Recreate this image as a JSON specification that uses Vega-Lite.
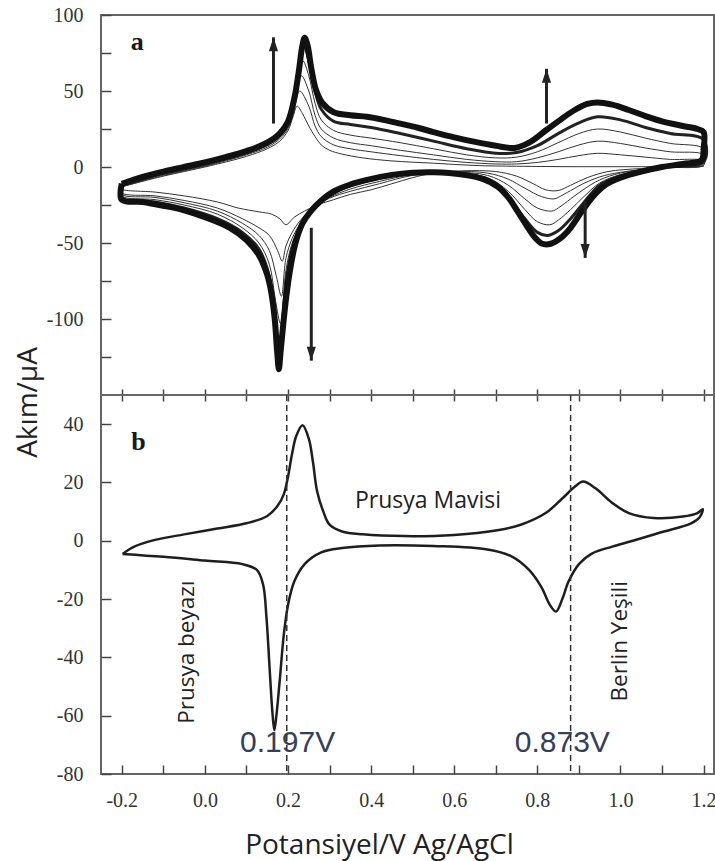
{
  "$schema": "https://vega.github.io/schema/vega-lite/v6.json",
  "background": "white",
  "padding": {"left": 13, "top": 4, "right": 0, "bottom": 2},
  "spacing": 0,
  "bounds": "flush",
  "config": {
    "view": {"stroke": "#666", "strokeWidth": 2},
    "axis": {
      "domain": false, "grid": false,
      "labelFont": "Liberation Serif", "labelFontSize": 20, "labelColor": "#333",
      "tickColor": "#444", "tickWidth": 1.5, "labelOverlap": false, "labelFlush": false,
      "titleFont": "Open Sans", "titleFontSize": 28, "titleFontWeight": "normal", "titleColor": "#222"
    }
  },
  "datasets": {
    "cvA": [
      {"c":"o","k":1,"E":-0.2,"I":-11},{"c":"o","k":2,"E":-0.15,"I":-6.5},{"c":"o","k":3,"E":-0.1,"I":-3},{"c":"o","k":4,"E":-0.05,"I":0},{"c":"o","k":5,"E":0,"I":3},{"c":"o","k":6,"E":0.05,"I":6.5},{"c":"o","k":7,"E":0.1,"I":10.5},{"c":"o","k":8,"E":0.15,"I":16},{"c":"o","k":9,"E":0.18,"I":22},{"c":"o","k":10,"E":0.2,"I":30},{"c":"o","k":11,"E":0.215,"I":45},{"c":"o","k":12,"E":0.226,"I":63},{"c":"o","k":13,"E":0.234,"I":79},{"c":"o","k":14,"E":0.24,"I":85},{"c":"o","k":15,"E":0.247,"I":80},{"c":"o","k":16,"E":0.256,"I":65},{"c":"o","k":17,"E":0.267,"I":51},{"c":"o","k":18,"E":0.283,"I":42},{"c":"o","k":19,"E":0.31,"I":36},{"c":"o","k":20,"E":0.35,"I":34},{"c":"o","k":21,"E":0.39,"I":33},{"c":"o","k":22,"E":0.43,"I":31},{"c":"o","k":23,"E":0.47,"I":28.5},{"c":"o","k":24,"E":0.51,"I":26},{"c":"o","k":25,"E":0.55,"I":23},{"c":"o","k":26,"E":0.6,"I":19.5},{"c":"o","k":27,"E":0.65,"I":16.5},{"c":"o","k":28,"E":0.7,"I":14},{"c":"o","k":29,"E":0.745,"I":12.5},{"c":"o","k":30,"E":0.78,"I":16},{"c":"o","k":31,"E":0.82,"I":24},{"c":"o","k":32,"E":0.86,"I":32},{"c":"o","k":33,"E":0.89,"I":37.5},{"c":"o","k":34,"E":0.92,"I":41.5},{"c":"o","k":35,"E":0.945,"I":42.5},{"c":"o","k":36,"E":0.98,"I":41},{"c":"o","k":37,"E":1.02,"I":37.5},{"c":"o","k":38,"E":1.06,"I":33.5},{"c":"o","k":39,"E":1.1,"I":30},{"c":"o","k":40,"E":1.15,"I":27},{"c":"o","k":41,"E":1.185,"I":25},{"c":"o","k":42,"E":1.2,"I":23},{"c":"o","k":43,"E":1.2,"I":12},{"c":"o","k":44,"E":1.195,"I":4.5},{"c":"o","k":45,"E":1.15,"I":2},{"c":"o","k":46,"E":1.1,"I":0},{"c":"o","k":47,"E":1.05,"I":-3},{"c":"o","k":48,"E":1.0,"I":-7},{"c":"o","k":49,"E":0.965,"I":-11.5},{"c":"o","k":50,"E":0.935,"I":-19},{"c":"o","k":51,"E":0.905,"I":-30},{"c":"o","k":52,"E":0.88,"I":-40},{"c":"o","k":53,"E":0.855,"I":-47},{"c":"o","k":54,"E":0.832,"I":-50.5},{"c":"o","k":55,"E":0.812,"I":-50.5},{"c":"o","k":56,"E":0.793,"I":-46},{"c":"o","k":57,"E":0.773,"I":-38},{"c":"o","k":58,"E":0.752,"I":-29},{"c":"o","k":59,"E":0.73,"I":-20},{"c":"o","k":60,"E":0.705,"I":-13},{"c":"o","k":61,"E":0.67,"I":-8},{"c":"o","k":62,"E":0.62,"I":-5},{"c":"o","k":63,"E":0.55,"I":-3.5},{"c":"o","k":64,"E":0.5,"I":-3.8},{"c":"o","k":65,"E":0.45,"I":-5.2},{"c":"o","k":66,"E":0.39,"I":-8.5},{"c":"o","k":67,"E":0.35,"I":-11.5},{"c":"o","k":68,"E":0.31,"I":-16},{"c":"o","k":69,"E":0.28,"I":-22},{"c":"o","k":70,"E":0.255,"I":-29},{"c":"o","k":71,"E":0.235,"I":-37},{"c":"o","k":72,"E":0.218,"I":-50},{"c":"o","k":73,"E":0.206,"I":-66},{"c":"o","k":74,"E":0.196,"I":-85},{"c":"o","k":75,"E":0.188,"I":-105},{"c":"o","k":76,"E":0.182,"I":-122},{"c":"o","k":77,"E":0.178,"I":-133},{"c":"o","k":78,"E":0.174,"I":-122},{"c":"o","k":79,"E":0.168,"I":-100},{"c":"o","k":80,"E":0.16,"I":-83},{"c":"o","k":81,"E":0.15,"I":-71},{"c":"o","k":82,"E":0.13,"I":-58},{"c":"o","k":83,"E":0.1,"I":-48},{"c":"o","k":84,"E":0.06,"I":-40},{"c":"o","k":85,"E":0,"I":-33},{"c":"o","k":86,"E":-0.05,"I":-28.5},{"c":"o","k":87,"E":-0.1,"I":-25.5},{"c":"o","k":88,"E":-0.15,"I":-23},{"c":"o","k":89,"E":-0.2,"I":-21.5},{"c":"o","k":90,"E":-0.2,"I":-11},

      {"c":"f","k":1,"E":-0.2,"I":-13},{"c":"f","k":2,"E":-0.1,"I":-6},{"c":"f","k":3,"E":0,"I":0},{"c":"f","k":4,"E":0.1,"I":7},{"c":"f","k":5,"E":0.15,"I":12},{"c":"f","k":6,"E":0.18,"I":17},{"c":"f","k":7,"E":0.2,"I":24},{"c":"f","k":8,"E":0.212,"I":33},{"c":"f","k":9,"E":0.222,"I":40},{"c":"f","k":10,"E":0.235,"I":35},{"c":"f","k":11,"E":0.25,"I":27},{"c":"f","k":12,"E":0.265,"I":20},{"c":"f","k":13,"E":0.28,"I":14.5},{"c":"f","k":14,"E":0.3,"I":11},{"c":"f","k":15,"E":0.33,"I":8.5},{"c":"f","k":16,"E":0.38,"I":6},{"c":"f","k":17,"E":0.45,"I":4},{"c":"f","k":18,"E":0.55,"I":2.5},{"c":"f","k":19,"E":0.65,"I":1},{"c":"f","k":20,"E":0.75,"I":0.5},{"c":"f","k":21,"E":0.9,"I":0.2},{"c":"f","k":22,"E":1.05,"I":0.2},{"c":"f","k":23,"E":1.2,"I":0.5},{"c":"f","k":24,"E":1.15,"I":0},{"c":"f","k":25,"E":1.05,"I":-1},{"c":"f","k":26,"E":0.97,"I":-3},{"c":"f","k":27,"E":0.92,"I":-7},{"c":"f","k":28,"E":0.88,"I":-12},{"c":"f","k":29,"E":0.85,"I":-15.5},{"c":"f","k":30,"E":0.82,"I":-15},{"c":"f","k":31,"E":0.79,"I":-11},{"c":"f","k":32,"E":0.75,"I":-6},{"c":"f","k":33,"E":0.7,"I":-3},{"c":"f","k":34,"E":0.62,"I":-2.5},{"c":"f","k":35,"E":0.55,"I":-4},{"c":"f","k":36,"E":0.5,"I":-7},{"c":"f","k":37,"E":0.45,"I":-11},{"c":"f","k":38,"E":0.4,"I":-15},{"c":"f","k":39,"E":0.35,"I":-18},{"c":"f","k":40,"E":0.31,"I":-21.5},{"c":"f","k":41,"E":0.27,"I":-25},{"c":"f","k":42,"E":0.24,"I":-29},{"c":"f","k":43,"E":0.215,"I":-33},{"c":"f","k":44,"E":0.195,"I":-38},{"c":"f","k":45,"E":0.18,"I":-34},{"c":"f","k":46,"E":0.16,"I":-31},{"c":"f","k":47,"E":0.13,"I":-29.5},{"c":"f","k":48,"E":0.08,"I":-27},{"c":"f","k":49,"E":0.03,"I":-23},{"c":"f","k":50,"E":-0.05,"I":-19},{"c":"f","k":51,"E":-0.12,"I":-16.5},{"c":"f","k":52,"E":-0.2,"I":-14.5},{"c":"f","k":53,"E":-0.2,"I":-13},

      {"c":"i4","k":1,"E":-0.2,"I":-12},{"c":"i4","k":2,"E":-0.1,"I":-4},{"c":"i4","k":3,"E":0,"I":2},{"c":"i4","k":4,"E":0.1,"I":9.5},{"c":"i4","k":5,"E":0.15,"I":15},{"c":"i4","k":6,"E":0.18,"I":21},{"c":"i4","k":7,"E":0.2,"I":29},{"c":"i4","k":8,"E":0.215,"I":44},{"c":"i4","k":9,"E":0.238,"I":80},{"c":"i4","k":10,"E":0.25,"I":70},{"c":"i4","k":11,"E":0.265,"I":50},{"c":"i4","k":12,"E":0.28,"I":38},{"c":"i4","k":13,"E":0.31,"I":30},{"c":"i4","k":14,"E":0.35,"I":28},{"c":"i4","k":15,"E":0.4,"I":26},{"c":"i4","k":16,"E":0.47,"I":22},{"c":"i4","k":17,"E":0.55,"I":17},{"c":"i4","k":18,"E":0.63,"I":12},{"c":"i4","k":19,"E":0.7,"I":9},{"c":"i4","k":20,"E":0.75,"I":9.5},{"c":"i4","k":21,"E":0.8,"I":14},{"c":"i4","k":22,"E":0.85,"I":22},{"c":"i4","k":23,"E":0.9,"I":29},{"c":"i4","k":24,"E":0.945,"I":33},{"c":"i4","k":25,"E":1.0,"I":31},{"c":"i4","k":26,"E":1.06,"I":26},{"c":"i4","k":27,"E":1.12,"I":22},{"c":"i4","k":28,"E":1.2,"I":18},
      {"c":"i4","k":29,"E":1.2,"I":3.5},{"c":"i4","k":30,"E":1.1,"I":0},{"c":"i4","k":31,"E":1.0,"I":-6},{"c":"i4","k":32,"E":0.95,"I":-12},{"c":"i4","k":33,"E":0.91,"I":-24},{"c":"i4","k":34,"E":0.88,"I":-34},{"c":"i4","k":35,"E":0.85,"I":-42},{"c":"i4","k":36,"E":0.825,"I":-45},{"c":"i4","k":37,"E":0.8,"I":-43},{"c":"i4","k":38,"E":0.77,"I":-34},{"c":"i4","k":39,"E":0.73,"I":-20},{"c":"i4","k":40,"E":0.68,"I":-8},{"c":"i4","k":41,"E":0.6,"I":-4},{"c":"i4","k":42,"E":0.5,"I":-4},{"c":"i4","k":43,"E":0.42,"I":-7},{"c":"i4","k":44,"E":0.35,"I":-12},{"c":"i4","k":45,"E":0.3,"I":-18.5},{"c":"i4","k":46,"E":0.26,"I":-27},{"c":"i4","k":47,"E":0.23,"I":-39},{"c":"i4","k":48,"E":0.21,"I":-54},{"c":"i4","k":49,"E":0.195,"I":-76},{"c":"i4","k":50,"E":0.18,"I":-120},{"c":"i4","k":51,"E":0.17,"I":-104},{"c":"i4","k":52,"E":0.155,"I":-72},{"c":"i4","k":53,"E":0.13,"I":-54},{"c":"i4","k":54,"E":0.09,"I":-43},{"c":"i4","k":55,"E":0.03,"I":-34},{"c":"i4","k":56,"E":-0.05,"I":-27},{"c":"i4","k":57,"E":-0.12,"I":-23},{"c":"i4","k":58,"E":-0.2,"I":-20.5},{"c":"i4","k":59,"E":-0.2,"I":-12},

      {"c":"i3","k":1,"E":-0.2,"I":-12.5},{"c":"i3","k":2,"E":-0.1,"I":-4.5},{"c":"i3","k":3,"E":0,"I":1.5},{"c":"i3","k":4,"E":0.1,"I":9},{"c":"i3","k":5,"E":0.15,"I":14.5},{"c":"i3","k":6,"E":0.18,"I":20.5},{"c":"i3","k":7,"E":0.2,"I":28},{"c":"i3","k":8,"E":0.215,"I":42},{"c":"i3","k":9,"E":0.235,"I":70},{"c":"i3","k":10,"E":0.25,"I":60},{"c":"i3","k":11,"E":0.265,"I":42},{"c":"i3","k":12,"E":0.28,"I":31},{"c":"i3","k":13,"E":0.31,"I":24},{"c":"i3","k":14,"E":0.35,"I":21},{"c":"i3","k":15,"E":0.4,"I":19},{"c":"i3","k":16,"E":0.47,"I":16},{"c":"i3","k":17,"E":0.55,"I":12},{"c":"i3","k":18,"E":0.63,"I":8},{"c":"i3","k":19,"E":0.7,"I":6},{"c":"i3","k":20,"E":0.75,"I":6.5},{"c":"i3","k":21,"E":0.8,"I":10},{"c":"i3","k":22,"E":0.85,"I":16},{"c":"i3","k":23,"E":0.9,"I":22},{"c":"i3","k":24,"E":0.945,"I":25},{"c":"i3","k":25,"E":1.0,"I":23},{"c":"i3","k":26,"E":1.06,"I":19},{"c":"i3","k":27,"E":1.12,"I":15.5},{"c":"i3","k":28,"E":1.2,"I":12},
      {"c":"i3","k":29,"E":1.2,"I":2.5},{"c":"i3","k":30,"E":1.1,"I":0},{"c":"i3","k":31,"E":1.0,"I":-5},{"c":"i3","k":32,"E":0.95,"I":-10.5},{"c":"i3","k":33,"E":0.91,"I":-20},{"c":"i3","k":34,"E":0.88,"I":-28},{"c":"i3","k":35,"E":0.85,"I":-35},{"c":"i3","k":36,"E":0.83,"I":-38},{"c":"i3","k":37,"E":0.8,"I":-36},{"c":"i3","k":38,"E":0.77,"I":-28},{"c":"i3","k":39,"E":0.73,"I":-16},{"c":"i3","k":40,"E":0.68,"I":-7},{"c":"i3","k":41,"E":0.6,"I":-4},{"c":"i3","k":42,"E":0.5,"I":-4.5},{"c":"i3","k":43,"E":0.42,"I":-8},{"c":"i3","k":44,"E":0.35,"I":-13},{"c":"i3","k":45,"E":0.3,"I":-19},{"c":"i3","k":46,"E":0.26,"I":-27},{"c":"i3","k":47,"E":0.23,"I":-38},{"c":"i3","k":48,"E":0.21,"I":-50},{"c":"i3","k":49,"E":0.195,"I":-68},{"c":"i3","k":50,"E":0.182,"I":-103},{"c":"i3","k":51,"E":0.17,"I":-88},{"c":"i3","k":52,"E":0.155,"I":-64},{"c":"i3","k":53,"E":0.13,"I":-50},{"c":"i3","k":54,"E":0.09,"I":-40},{"c":"i3","k":55,"E":0.03,"I":-31},{"c":"i3","k":56,"E":-0.05,"I":-25},{"c":"i3","k":57,"E":-0.12,"I":-21.5},{"c":"i3","k":58,"E":-0.2,"I":-19},{"c":"i3","k":59,"E":-0.2,"I":-12.5},

      {"c":"i2","k":1,"E":-0.2,"I":-13},{"c":"i2","k":2,"E":-0.1,"I":-5},{"c":"i2","k":3,"E":0,"I":1},{"c":"i2","k":4,"E":0.1,"I":8.5},{"c":"i2","k":5,"E":0.15,"I":14},{"c":"i2","k":6,"E":0.18,"I":19.5},{"c":"i2","k":7,"E":0.2,"I":27},{"c":"i2","k":8,"E":0.215,"I":40},{"c":"i2","k":9,"E":0.232,"I":60},{"c":"i2","k":10,"E":0.25,"I":50},{"c":"i2","k":11,"E":0.265,"I":34},{"c":"i2","k":12,"E":0.28,"I":25},{"c":"i2","k":13,"E":0.31,"I":19},{"c":"i2","k":14,"E":0.35,"I":16},{"c":"i2","k":15,"E":0.4,"I":14},{"c":"i2","k":16,"E":0.47,"I":11},{"c":"i2","k":17,"E":0.55,"I":8},{"c":"i2","k":18,"E":0.63,"I":5},{"c":"i2","k":19,"E":0.7,"I":3.5},{"c":"i2","k":20,"E":0.75,"I":3.5},{"c":"i2","k":21,"E":0.8,"I":6},{"c":"i2","k":22,"E":0.85,"I":10},{"c":"i2","k":23,"E":0.9,"I":14.5},{"c":"i2","k":24,"E":0.945,"I":17},{"c":"i2","k":25,"E":1.0,"I":15.5},{"c":"i2","k":26,"E":1.06,"I":12.5},{"c":"i2","k":27,"E":1.12,"I":10},{"c":"i2","k":28,"E":1.2,"I":8},
      {"c":"i2","k":29,"E":1.2,"I":1.5},{"c":"i2","k":30,"E":1.1,"I":-0.5},{"c":"i2","k":31,"E":1.0,"I":-4},{"c":"i2","k":32,"E":0.95,"I":-8.5},{"c":"i2","k":33,"E":0.91,"I":-15},{"c":"i2","k":34,"E":0.88,"I":-21},{"c":"i2","k":35,"E":0.85,"I":-27},{"c":"i2","k":36,"E":0.835,"I":-29},{"c":"i2","k":37,"E":0.8,"I":-27},{"c":"i2","k":38,"E":0.77,"I":-21},{"c":"i2","k":39,"E":0.73,"I":-12},{"c":"i2","k":40,"E":0.68,"I":-5.5},{"c":"i2","k":41,"E":0.6,"I":-3.5},{"c":"i2","k":42,"E":0.5,"I":-5},{"c":"i2","k":43,"E":0.42,"I":-9.5},{"c":"i2","k":44,"E":0.35,"I":-14.5},{"c":"i2","k":45,"E":0.3,"I":-20},{"c":"i2","k":46,"E":0.26,"I":-27},{"c":"i2","k":47,"E":0.23,"I":-37},{"c":"i2","k":48,"E":0.21,"I":-47},{"c":"i2","k":49,"E":0.195,"I":-60},{"c":"i2","k":50,"E":0.184,"I":-85},{"c":"i2","k":51,"E":0.172,"I":-72},{"c":"i2","k":52,"E":0.155,"I":-55},{"c":"i2","k":53,"E":0.13,"I":-45},{"c":"i2","k":54,"E":0.09,"I":-37},{"c":"i2","k":55,"E":0.03,"I":-29},{"c":"i2","k":56,"E":-0.05,"I":-23.5},{"c":"i2","k":57,"E":-0.12,"I":-20},{"c":"i2","k":58,"E":-0.2,"I":-18},{"c":"i2","k":59,"E":-0.2,"I":-13},

      {"c":"i1","k":1,"E":-0.2,"I":-13},{"c":"i1","k":2,"E":-0.1,"I":-5.5},{"c":"i1","k":3,"E":0,"I":0.5},{"c":"i1","k":4,"E":0.1,"I":8},{"c":"i1","k":5,"E":0.15,"I":13},{"c":"i1","k":6,"E":0.18,"I":18.5},{"c":"i1","k":7,"E":0.2,"I":25.5},{"c":"i1","k":8,"E":0.215,"I":38},{"c":"i1","k":9,"E":0.228,"I":50},{"c":"i1","k":10,"E":0.25,"I":40},{"c":"i1","k":11,"E":0.265,"I":27},{"c":"i1","k":12,"E":0.28,"I":20},{"c":"i1","k":13,"E":0.31,"I":14.5},{"c":"i1","k":14,"E":0.35,"I":12},{"c":"i1","k":15,"E":0.4,"I":10},{"c":"i1","k":16,"E":0.47,"I":7.5},{"c":"i1","k":17,"E":0.55,"I":5},{"c":"i1","k":18,"E":0.63,"I":3},{"c":"i1","k":19,"E":0.7,"I":2},{"c":"i1","k":20,"E":0.75,"I":2},{"c":"i1","k":21,"E":0.8,"I":3},{"c":"i1","k":22,"E":0.85,"I":5},{"c":"i1","k":23,"E":0.9,"I":7.5},{"c":"i1","k":24,"E":0.945,"I":9},{"c":"i1","k":25,"E":1.0,"I":8},{"c":"i1","k":26,"E":1.06,"I":6.5},{"c":"i1","k":27,"E":1.12,"I":5},{"c":"i1","k":28,"E":1.2,"I":4},
      {"c":"i1","k":29,"E":1.2,"I":1},{"c":"i1","k":30,"E":1.1,"I":-0.5},{"c":"i1","k":31,"E":1.0,"I":-3.5},{"c":"i1","k":32,"E":0.95,"I":-6.5},{"c":"i1","k":33,"E":0.91,"I":-11},{"c":"i1","k":34,"E":0.88,"I":-15.5},{"c":"i1","k":35,"E":0.85,"I":-20},{"c":"i1","k":36,"E":0.84,"I":-21},{"c":"i1","k":37,"E":0.81,"I":-19.5},{"c":"i1","k":38,"E":0.77,"I":-14},{"c":"i1","k":39,"E":0.73,"I":-8},{"c":"i1","k":40,"E":0.68,"I":-4},{"c":"i1","k":41,"E":0.6,"I":-3},{"c":"i1","k":42,"E":0.5,"I":-5.5},{"c":"i1","k":43,"E":0.42,"I":-11},{"c":"i1","k":44,"E":0.35,"I":-16},{"c":"i1","k":45,"E":0.3,"I":-20.5},{"c":"i1","k":46,"E":0.26,"I":-27},{"c":"i1","k":47,"E":0.23,"I":-35},{"c":"i1","k":48,"E":0.21,"I":-43},{"c":"i1","k":49,"E":0.195,"I":-52},{"c":"i1","k":50,"E":0.186,"I":-62},{"c":"i1","k":51,"E":0.175,"I":-55},{"c":"i1","k":52,"E":0.155,"I":-45},{"c":"i1","k":53,"E":0.13,"I":-40},{"c":"i1","k":54,"E":0.09,"I":-34},{"c":"i1","k":55,"E":0.03,"I":-27},{"c":"i1","k":56,"E":-0.05,"I":-22},{"c":"i1","k":57,"E":-0.12,"I":-19},{"c":"i1","k":58,"E":-0.2,"I":-17},{"c":"i1","k":59,"E":-0.2,"I":-13}
    ],
    "cvB": [
      {"k":1,"E":-0.198,"I":-4.5},{"k":2,"E":-0.17,"I":-2},{"k":3,"E":-0.12,"I":0.3},{"k":4,"E":-0.05,"I":2.2},{"k":5,"E":0.03,"I":4.2},{"k":6,"E":0.1,"I":6},{"k":7,"E":0.15,"I":8.5},{"k":8,"E":0.175,"I":12},{"k":9,"E":0.19,"I":16},{"k":10,"E":0.2,"I":22},{"k":11,"E":0.21,"I":30},{"k":12,"E":0.22,"I":36},{"k":13,"E":0.235,"I":39.6},{"k":14,"E":0.25,"I":35},{"k":15,"E":0.26,"I":27},{"k":16,"E":0.27,"I":17},{"k":17,"E":0.285,"I":10},{"k":18,"E":0.3,"I":5.5},{"k":19,"E":0.33,"I":3.2},{"k":20,"E":0.38,"I":2.2},{"k":21,"E":0.48,"I":1.6},{"k":22,"E":0.6,"I":2},{"k":23,"E":0.7,"I":3.5},{"k":24,"E":0.76,"I":5.5},{"k":25,"E":0.82,"I":9.5},{"k":26,"E":0.86,"I":14.5},{"k":27,"E":0.89,"I":18.5},{"k":28,"E":0.91,"I":20.3},{"k":29,"E":0.94,"I":18},{"k":30,"E":0.98,"I":13},{"k":31,"E":1.02,"I":9.5},{"k":32,"E":1.08,"I":7.8},{"k":33,"E":1.15,"I":8.3},{"k":34,"E":1.185,"I":9.5},{"k":35,"E":1.198,"I":10.8},{"k":36,"E":1.19,"I":8},{"k":37,"E":1.17,"I":6},{"k":38,"E":1.1,"I":3},{"k":39,"E":1.03,"I":0},{"k":40,"E":0.98,"I":-2},{"k":41,"E":0.93,"I":-4.5},{"k":42,"E":0.9,"I":-8},{"k":43,"E":0.875,"I":-14},{"k":44,"E":0.86,"I":-20},{"k":45,"E":0.845,"I":-24.3},{"k":46,"E":0.83,"I":-22},{"k":47,"E":0.81,"I":-16},{"k":48,"E":0.78,"I":-10},{"k":49,"E":0.74,"I":-5.5},{"k":50,"E":0.68,"I":-3},{"k":51,"E":0.55,"I":-1.8},{"k":52,"E":0.42,"I":-1.6},{"k":53,"E":0.33,"I":-2.5},{"k":54,"E":0.28,"I":-4},{"k":55,"E":0.24,"I":-8},{"k":56,"E":0.215,"I":-14},{"k":57,"E":0.2,"I":-22},{"k":58,"E":0.19,"I":-32},{"k":59,"E":0.18,"I":-48},{"k":60,"E":0.172,"I":-60},{"k":61,"E":0.167,"I":-65},{"k":62,"E":0.162,"I":-58},{"k":63,"E":0.155,"I":-42},{"k":64,"E":0.148,"I":-26},{"k":65,"E":0.14,"I":-15},{"k":66,"E":0.125,"I":-10},{"k":67,"E":0.09,"I":-8},{"k":68,"E":0,"I":-6.8},{"k":69,"E":-0.1,"I":-5.5},{"k":70,"E":-0.198,"I":-4.5}
    ],
    "arrows": [
      {"E":0.165,"tail":28.6,"tip":85.3,"dir":"up"},
      {"E":0.256,"tail":-40,"tip":-127.4,"dir":"down"},
      {"E":0.822,"tail":28.6,"tip":64.6,"dir":"up"},
      {"E":0.915,"tail":-22.7,"tip":-59.8,"dir":"down"}
    ],
    "vlines": [{"E":0.197},{"E":0.88}],
    "flatText": [{"t":"Prusya Mavisi","E":0.537,"I":11.2}],
    "rotText": [{"t":"Prusya beyazı","E":-0.027,"I":-38.2},{"t":"Berlin Yeşili","E":1.0146,"I":-34.5}],
    "volts": [{"t":"0.197V","E":0.199,"I":-72.6},{"t":"0.873V","E":0.86,"I":-72.6}],
    "panelA": [{"t":"a","E":-0.163,"I":77}],
    "panelB": [{"t":"b","E":-0.16,"I":31.1}]
  },
  "vconcat": [
    {
      "width": 613,
      "height": 380,
      "layer": [
        {
          "data": {"name": "cvA"},
          "transform": [{"filter": "datum.c !== 'o' && datum.c !== 'i4'"}],
          "mark": {"type": "line", "interpolate": "catmull-rom", "strokeWidth": 1, "color": "#333", "clip": true},
          "encoding": {
            "x": {"field": "E", "type": "quantitative",
              "scale": {"domain": [-0.25, 1.225], "nice": false, "zero": false},
              "axis": {"orient": "bottom", "title": null, "labels": false,
                "values": [-0.2,-0.1,0,0.1,0.2,0.3,0.4,0.5,0.6,0.7,0.8,0.9,1.0,1.1,1.2],
                "offset": -6, "tickSize": 12}},
            "y": {"field": "I", "type": "quantitative",
              "scale": {"domain": [-150, 100], "nice": false, "zero": false},
              "axis": {"orient": "left",
                "values": [-125,-100,-75,-50,-25,0,25,50,75,100],
                "labelExpr": "abs(datum.value) % 50 === 0 ? '' + datum.value : ''",
                "labelFont": "Liberation Serif", "labelFontSize": 20, "labelColor": "#333",
                "offset": -10, "tickSize": 10,
                "labelPadding": 18,
                "title": "Akım/μA", "titleX": -83, "titleY": 387, "titleAlign": "center", "titleBaseline": "middle", "titleAngle": -90}},
            "detail": {"field": "c"},
            "order": {"field": "k", "type": "quantitative"}
          }
        },
        {
          "data": {"name": "cvA"},
          "transform": [{"filter": "datum.c === 'i4'"}],
          "mark": {"type": "line", "interpolate": "catmull-rom", "strokeWidth": 3, "color": "#222", "clip": true},
          "encoding": {
            "x": {"field": "E", "type": "quantitative"},
            "y": {"field": "I", "type": "quantitative"},
            "order": {"field": "k", "type": "quantitative"}
          }
        },
        {
          "data": {"name": "cvA"},
          "transform": [{"filter": "datum.c === 'o'"}],
          "mark": {"type": "line", "interpolate": "catmull-rom", "strokeWidth": 6, "color": "#111", "clip": true},
          "encoding": {
            "x": {"field": "E", "type": "quantitative"},
            "y": {"field": "I", "type": "quantitative"},
            "order": {"field": "k", "type": "quantitative"}
          }
        },
        {
          "data": {"name": "arrows"},
          "mark": {"type": "rule", "strokeWidth": 3, "color": "#222"},
          "encoding": {
            "x": {"field": "E", "type": "quantitative"},
            "y": {"field": "tail", "type": "quantitative"},
            "y2": {"field": "tip"}
          }
        },
        {
          "data": {"name": "arrows"},
          "transform": [{"filter": "datum.dir === 'up'"}],
          "mark": {"type": "point", "shape": "M0,-1L-0.65,1L0.65,1Z", "filled": true, "size": 196, "color": "#222", "opacity": 1, "yOffset": 7},
          "encoding": {
            "x": {"field": "E", "type": "quantitative"},
            "y": {"field": "tip", "type": "quantitative"}
          }
        },
        {
          "data": {"name": "arrows"},
          "transform": [{"filter": "datum.dir === 'down'"}],
          "mark": {"type": "point", "shape": "M0,1L-0.65,-1L0.65,-1Z", "filled": true, "size": 196, "color": "#222", "opacity": 1, "yOffset": -7},
          "encoding": {
            "x": {"field": "E", "type": "quantitative"},
            "y": {"field": "tip", "type": "quantitative"}
          }
        },
        {
          "data": {"name": "panelA"},
          "mark": {"type": "text", "font": "Liberation Serif", "fontWeight": "bold", "fontSize": 26, "color": "#1a1a1a", "align": "center", "baseline": "alphabetic"},
          "encoding": {
            "x": {"field": "E", "type": "quantitative"},
            "y": {"field": "I", "type": "quantitative"},
            "text": {"field": "t"}
          }
        }
      ]
    },
    {
      "width": 613,
      "height": 379,
      "layer": [
        {
          "data": {"name": "cvB"},
          "mark": {"type": "line", "interpolate": "catmull-rom", "strokeWidth": 2.5, "color": "#1e1e1e", "clip": true},
          "encoding": {
            "x": {"field": "E", "type": "quantitative",
              "scale": {"domain": [-0.25, 1.225], "nice": false, "zero": false},
              "axis": {"orient": "bottom",
                "values": [-0.2,-0.1,0,0.1,0.2,0.3,0.4,0.5,0.6,0.7,0.8,0.9,1.0,1.1,1.2],
                "labelExpr": "abs(round(datum.value*10)) % 2 === 0 ? (datum.value < 0 ? '-' : '') + format(abs(datum.value), '.1f') : ''",
                "labelFont": "Liberation Serif", "labelFontSize": 20, "labelColor": "#333",
                "offset": -9, "tickSize": 9,
                "labelPadding": 26, "labelBaseline": "middle",
                "title": "Potansiyel/V Ag/AgCl", "titleX": 278, "titleY": 88, "titleAlign": "center", "titleBaseline": "alphabetic", "titleAngle": 0}},
            "y": {"field": "I", "type": "quantitative",
              "scale": {"domain": [-80, 50], "nice": false, "zero": false},
              "axis": {"orient": "left",
                "values": [-80,-70,-60,-50,-40,-30,-20,-10,0,10,20,30,40],
                "labelExpr": "abs(datum.value) % 20 === 0 ? '' + datum.value : ''",
                "labelFont": "Liberation Serif", "labelFontSize": 20, "labelColor": "#333",
                "labelOverlap": false, "labelOpacity": 1, "tickOpacity": 1, "zindex": 1,
                "offset": -10, "tickSize": 10,
                "labelPadding": 18, "title": null}},
            "order": {"field": "k", "type": "quantitative"}
          }
        },
        {
          "data": {"name": "vlines"},
          "mark": {"type": "rule", "strokeDash": [6, 4], "strokeWidth": 1.5, "color": "#333"},
          "encoding": {
            "x": {"field": "E", "type": "quantitative"}
          }
        },
        {
          "data": {"name": "flatText"},
          "mark": {"type": "text", "font": "Open Sans", "fontSize": 23, "color": "#222", "align": "center", "baseline": "alphabetic"},
          "encoding": {
            "x": {"field": "E", "type": "quantitative"},
            "y": {"field": "I", "type": "quantitative"},
            "text": {"field": "t"}
          }
        },
        {
          "data": {"name": "rotText"},
          "mark": {"type": "text", "font": "Open Sans", "fontSize": 22.5, "color": "#222", "align": "center", "baseline": "alphabetic", "angle": 270},
          "encoding": {
            "x": {"field": "E", "type": "quantitative"},
            "y": {"field": "I", "type": "quantitative"},
            "text": {"field": "t"}
          }
        },
        {
          "data": {"name": "volts"},
          "mark": {"type": "text", "font": "Liberation Sans", "fontSize": 30, "color": "#34405a", "align": "center", "baseline": "alphabetic"},
          "encoding": {
            "x": {"field": "E", "type": "quantitative"},
            "y": {"field": "I", "type": "quantitative"},
            "text": {"field": "t"}
          }
        },
        {
          "data": {"name": "panelB"},
          "mark": {"type": "text", "font": "Liberation Serif", "fontWeight": "bold", "fontSize": 26, "color": "#1a1a1a", "align": "center", "baseline": "alphabetic"},
          "encoding": {
            "x": {"field": "E", "type": "quantitative"},
            "y": {"field": "I", "type": "quantitative"},
            "text": {"field": "t"}
          }
        }
      ]
    }
  ]
}
